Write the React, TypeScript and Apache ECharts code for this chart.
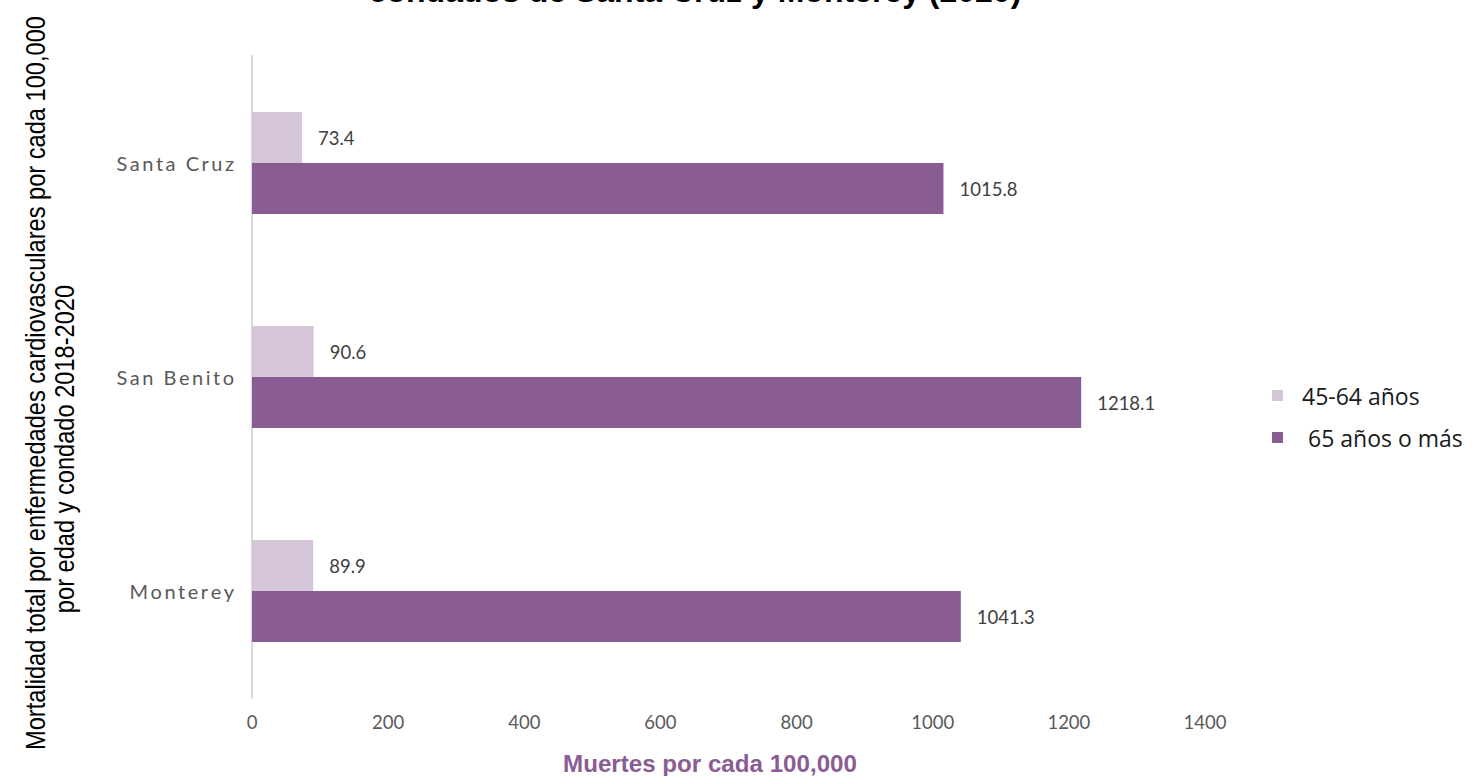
import React, { useEffect, useRef } from "react";
import * as echarts from "echarts";

const counties = ["Santa Cruz", "San Benito", "Monterey"];
const seriesNames = ["45-64 años", "65 años o más"];
const values45to64 = [73.4, 90.6, 89.9];
const values65plus = [1015.8, 1218.1, 1041.3];
const xTicks = [0, 200, 400, 600, 800, 1000, 1200, 1400];

const titleText = "condados de Santa Cruz y Monterey (2020)";
const yTitle1 = "Mortalidad total por enfermedades cardiovasculares por cada 100,000";
const yTitle2 = "por edad y condado 2018-2020";
const xTitle = "Muertes por cada 100,000";

const LIGHT = "#d5c5d9";
const DARK = "#8a5c94";

export default function App() {
  const ref = useRef<HTMLDivElement>(null);
  useEffect(() => {
    if (!ref.current) return;
    const chart = echarts.init(ref.current, undefined, { renderer: "svg" });
    const labelStyle = {
      show: true,
      position: "right" as const,
      distance: 16,
      color: "#404040",
      fontFamily: "Lato",
      fontSize: 18.5,
    };
    chart.setOption({
      animation: false,
      backgroundColor: "#ffffff",
      grid: { left: 252, top: 56, bottom: 78, right: 273, containLabel: false },
      xAxis: {
        type: "value",
        min: xTicks[0],
        max: xTicks[xTicks.length - 1],
        interval: 200,
        axisLine: { show: false },
        axisTick: { show: false },
        splitLine: { show: false },
        axisLabel: {
          color: "#595959",
          fontFamily: "Lato",
          fontSize: 18.5,
          margin: 14,
          formatter: (v: number) => String(v),
        },
      },
      yAxis: {
        type: "category",
        data: counties,
        inverse: true,
        axisLine: { show: true, lineStyle: { color: "#d9d9d9", width: 2 } },
        axisTick: { show: false },
        axisLabel: {
          color: "#595959",
          fontFamily: "Lato",
          fontSize: 20,
          margin: 18,
          formatter: (v: string) => v.split("").join("\u2009"),
        },
      },
      legend: {
        orient: "vertical",
        left: 1267,
        top: 379,
        itemWidth: 11,
        itemHeight: 11,
        itemGap: 19,
        icon: "rect",
        textStyle: {
          color: "#1a1a1a",
          fontFamily: "Open Sans",
          fontSize: 23,
          padding: [0, 0, 0, 14],
        },
        formatter: (name: string) => (name === seriesNames[1] ? " " + name : name),
        data: seriesNames,
      },
      series: [
        {
          name: seriesNames[0],
          type: "bar",
          data: values45to64,
          barWidth: 51,
          barGap: "0%",
          itemStyle: { color: LIGHT },
          label: labelStyle,
        },
        {
          name: seriesNames[1],
          type: "bar",
          data: values65plus,
          barWidth: 51,
          barGap: "0%",
          itemStyle: { color: DARK },
          label: labelStyle,
        },
      ],
      graphic: [
        {
          type: "text",
          x: 695,
          y: 7,
          style: {
            text: titleText,
            align: "center",
            verticalAlign: "bottom",
            fontFamily: "Liberation Sans",
            fontWeight: "bold",
            fontSize: 32,
            fill: "#000000",
          },
        },
        {
          type: "text",
          x: 35,
          y: 383,
          rotation: Math.PI / 2,
          scaleX: 0.875,
          style: {
            text: yTitle1,
            align: "center",
            verticalAlign: "middle",
            fontFamily: "Liberation Sans",
            fontSize: 27,
            fill: "#000000",
          },
        },
        {
          type: "text",
          x: 64,
          y: 449,
          rotation: Math.PI / 2,
          scaleX: 0.875,
          style: {
            text: yTitle2,
            align: "center",
            verticalAlign: "middle",
            fontFamily: "Liberation Sans",
            fontSize: 27,
            fill: "#000000",
          },
        },
        {
          type: "text",
          x: 710,
          y: 764,
          scaleX: 1.05,
          style: {
            text: xTitle,
            align: "center",
            verticalAlign: "middle",
            fontFamily: "Liberation Sans",
            fontWeight: "bold",
            fontSize: 23,
            fill: DARK,
          },
        },
      ],
    });
    return () => chart.dispose();
  }, []);
  return (
    <div
      ref={ref}
      style={{ position: "fixed", left: 0, top: 0, width: 1478, height: 776 }}
    />
  );
}
